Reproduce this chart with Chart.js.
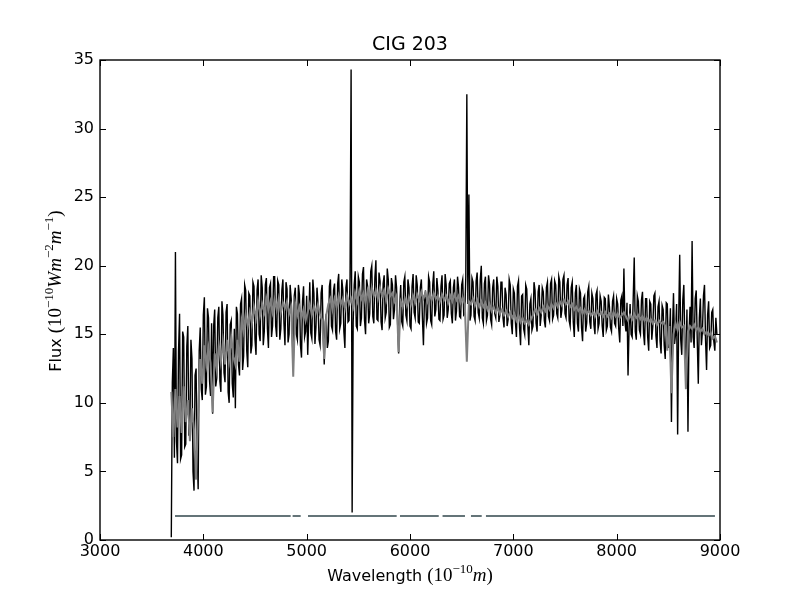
<!DOCTYPE html>
<html>
<head>
<meta charset="utf-8">
<script src="https://cdn.jsdelivr.net/npm/chart.js@4.4.0/dist/chart.umd.min.js"></script>
<style>
html,body{margin:0;padding:0;background:#ffffff;}
#wrap{width:800px;height:600px;}
</style>
</head>
<body>
<div id="wrap"><canvas id="c" width="800" height="600"></canvas></div>
<script>
// ---------------- data ----------------
const titleText = 'CIG 203';
const xTickValues = [3000, 4000, 5000, 6000, 7000, 8000, 9000];
const yTickValues = [0, 5, 10, 15, 20, 25, 30, 35];

// wavelength sampling of the two spectra (Angstrom)
const gridStart = 3690;
const observedStep = 10;
const modelStep = 20;

// observed spectrum (black), 10 A sampling, one row per 200 A
const observedFlux = [
  /*3690*/ 0.2, 11.5, 14.0, 6.0, 21.0, 7.2, 5.6, 13.8, 16.5, 5.9, 6.2, 15.2, 14.8, 6.8, 7.0, 14.1, 15.6, 7.6, 8.2, 14.6,
  /*3890*/ 13.2, 5.0, 3.6, 12.0, 12.5, 6.5, 3.7, 13.8, 15.5, 11.0, 10.2, 16.4, 17.7, 10.6, 11.2, 16.9, 16.2, 11.6, 10.5, 15.8,
  /*4090*/ 9.2, 15.6, 16.8, 11.2, 11.8, 16.2, 17.0, 11.6, 10.8, 17.4, 16.4, 12.2, 11.5, 16.6, 17.2, 10.8, 10.0, 15.7, 16.0, 11.4,
  /*4290*/ 10.4, 15.4, 9.6, 17.0, 16.5, 12.8, 12.0, 17.2, 17.6, 12.4, 13.4, 18.6, 18.2, 13.8, 12.6, 18.0, 17.8, 13.6, 14.2, 18.8,
  /*4490*/ 18.5, 14.6, 13.5, 18.2, 19.0, 15.0, 14.5, 19.3, 18.4, 14.2, 15.2, 18.6, 19.1, 15.4, 14.0, 18.4, 18.7, 14.8, 15.6, 19.2,
  /*4690*/ 19.2, 15.6, 14.8, 18.9, 18.6, 14.6, 15.4, 18.2, 19.0, 15.8, 14.2, 18.8, 18.3, 14.4, 15.0, 18.6, 17.6, 15.2, 12.6, 17.8,
  /*4890*/ 18.4, 15.0, 14.6, 18.6, 17.9, 14.2, 13.3, 17.4, 18.5, 14.8, 15.2, 17.8, 13.5, 16.0, 18.8, 15.1, 14.7, 19.0, 18.0, 14.3,
  /*5090*/ 15.5, 18.4, 17.2, 14.6, 14.2, 18.0, 18.6, 15.0, 12.8, 15.9, 16.5, 14.0, 14.5, 18.5, 19.0, 15.6, 15.3, 18.2, 18.7, 15.2,
  /*5290*/ 14.6, 18.7, 19.4, 15.4, 15.8, 19.0, 18.2, 15.2, 14.0, 18.4, 19.0, 15.9, 16.0, 19.2, 34.3, 2.0, 15.8, 18.6, 19.6, 15.6,
  /*5490*/ 15.4, 19.2, 18.8, 15.6, 16.2, 19.4, 19.9, 16.0, 15.0, 19.0, 18.5, 15.8, 16.5, 19.6, 20.0, 16.3, 15.8, 19.1, 20.4, 16.1,
  /*5690*/ 16.0, 19.5, 18.9, 15.9, 15.3, 18.7, 19.3, 16.2, 16.6, 19.8, 19.0, 15.5, 15.7, 19.1, 18.6, 16.1, 16.8, 19.3, 18.4, 15.8,
  /*5890*/ 13.6, 17.0, 18.6, 15.9, 15.6, 18.8, 19.2, 16.4, 16.0, 19.0, 18.4, 15.6, 15.4, 18.5, 19.4, 16.6, 16.2, 19.3, 18.6, 15.9,
  /*6090*/ 15.8, 18.4, 19.0, 16.2, 14.2, 17.6, 18.2, 15.8, 16.2, 19.2, 18.8, 16.0, 15.7, 18.6, 19.6, 16.3, 16.8, 19.1, 18.2, 16.1,
  /*6290*/ 16.0, 18.5, 19.3, 16.1, 16.4, 19.4, 18.6, 16.2, 16.8, 18.7, 18.9, 16.5, 15.8, 18.4, 19.0, 16.0, 16.7, 19.2, 18.4, 16.3,
  /*6490*/ 16.2, 18.6, 19.0, 16.4, 16.5, 19.2, 32.5, 17.2, 25.2, 16.0, 16.4, 19.1, 18.8, 16.3, 16.0, 18.9, 19.5, 16.6, 16.2, 19.0,
  /*6690*/ 20.0, 16.2, 15.8, 18.7, 19.2, 16.0, 16.4, 19.3, 18.6, 16.1, 15.7, 18.4, 19.0, 16.5, 16.2, 19.2, 18.5, 15.9, 16.4, 18.8,
  /*6890*/ 18.8, 16.2, 15.5, 18.4, 17.9, 15.6, 16.1, 19.0, 18.6, 15.8, 15.0, 18.3, 18.0, 15.9, 14.8, 18.5, 18.9, 15.5, 14.2, 17.8,
  /*7090*/ 17.9, 15.4, 15.0, 18.6, 18.3, 15.7, 14.2, 17.2, 17.6, 15.3, 15.6, 18.8, 18.2, 15.8, 15.2, 18.1, 18.6, 15.6, 16.4, 18.4,
  /*7290*/ 18.1, 16.0, 15.5, 18.4, 18.8, 16.3, 16.0, 18.7, 19.0, 16.1, 16.4, 18.9, 18.6, 16.5, 16.2, 19.2, 18.8, 16.2, 16.8, 19.0,
  /*7490*/ 19.3, 16.5, 16.2, 18.6, 19.1, 16.0, 15.6, 18.4, 18.8, 15.9, 14.8, 18.0, 18.6, 15.8, 15.2, 18.3, 18.0, 15.5, 14.5, 17.6,
  /*7690*/ 17.8, 15.2, 15.8, 18.1, 18.5, 15.9, 15.4, 18.0, 17.6, 15.7, 15.0, 17.9, 18.2, 15.4, 15.8, 17.8, 17.4, 15.6, 14.8, 17.7,
  /*7890*/ 17.6, 15.3, 15.6, 17.9, 17.0, 15.5, 15.2, 17.4, 17.8, 15.8, 15.6, 17.6, 17.2, 15.4, 14.4, 17.5, 17.8, 15.6, 19.8, 15.9,
  /*8090*/ 15.2, 17.3, 12.0, 15.4, 17.2, 15.0, 14.8, 17.6, 20.6, 15.2, 14.6, 17.8, 17.4, 15.3, 15.0, 17.5, 18.1, 15.1, 14.2, 17.6,
  /*8290*/ 17.6, 14.8, 13.8, 17.4, 17.2, 14.6, 15.6, 17.8, 18.0, 14.9, 14.0, 17.0, 17.4, 14.5, 13.6, 17.1, 16.8, 14.2, 13.2, 17.3,
  /*8490*/ 17.2, 14.0, 14.5, 16.9, 8.6, 15.2, 18.0, 14.3, 15.0, 17.2, 7.7, 16.0, 20.8, 14.6, 13.5, 17.5, 18.6, 14.2, 12.5, 16.8,
  /*8690*/ 7.9, 15.0, 17.0, 14.4, 21.8, 14.8, 14.0, 17.6, 18.2, 14.5, 11.4, 16.2, 17.6, 14.2, 15.2, 17.8, 18.6, 14.6, 12.4, 16.4,
  /*8890*/ 17.4, 14.0, 14.2, 16.6, 16.8, 14.5, 13.8, 16.2, 15.0
];

// fitted model spectrum (grey), 20 A sampling, one row per 200 A
const modelFlux = [
  /*3690*/ 10.8, 7.5, 11.0, 8.2, 10.5, 7.8, 11.2, 8.6, 10.2, 7.2,
  /*3890*/ 9.6, 8.0, 4.4, 9.5, 13.2, 11.4, 14.2, 12.8, 14.0, 12.9,
  /*4090*/ 9.3, 13.6, 12.4, 14.2, 13.0, 14.4, 12.8, 14.6, 13.2, 14.8,
  /*4290*/ 13.4, 12.8, 14.6, 13.0, 16.0, 15.2, 16.4, 15.6, 16.6, 15.8,
  /*4490*/ 17.0, 16.2, 17.4, 16.4, 17.2, 16.6, 17.6, 16.8, 17.4, 16.6,
  /*4690*/ 17.5, 16.8, 17.6, 16.6, 17.3, 16.9, 17.4, 16.5, 17.0, 11.9,
  /*4890*/ 17.2, 16.4, 17.0, 16.2, 16.8, 16.0, 16.6, 17.2, 16.4, 17.0,
  /*5090*/ 16.6, 17.2, 16.4, 16.0, 13.2, 16.4, 17.2, 17.6, 16.8, 17.6,
  /*5290*/ 17.0, 17.8, 17.2, 17.6, 16.9, 17.8, 17.2, 17.6, 17.0, 18.0,
  /*5490*/ 17.4, 18.2, 17.6, 18.0, 17.3, 18.2, 17.6, 18.4, 17.8, 18.2,
  /*5690*/ 17.6, 18.4, 17.8, 18.2, 17.5, 18.3, 17.8, 18.0, 17.4, 17.8,
  /*5890*/ 13.7, 17.4, 17.0, 17.6, 17.1, 17.7, 17.2, 17.8, 17.3, 17.9,
  /*6090*/ 17.5, 18.1, 17.6, 18.0, 17.4, 17.9, 17.5, 18.0, 17.6, 17.8,
  /*6290*/ 17.4, 17.9, 17.5, 17.8, 17.3, 17.8, 17.4, 17.9, 17.5, 17.8,
  /*6490*/ 17.3, 17.7, 17.2, 13.0, 17.4, 17.2, 17.6, 17.1, 17.5, 17.0,
  /*6690*/ 17.4, 17.0, 17.3, 16.8, 17.2, 16.7, 17.0, 16.6, 16.9, 16.5,
  /*6890*/ 16.8, 16.4, 16.7, 16.3, 16.6, 16.2, 16.5, 16.0, 16.4, 15.9,
  /*7090*/ 16.2, 15.8, 16.0, 15.7, 16.1, 16.4, 16.8, 16.5, 16.9, 16.6,
  /*7290*/ 17.0, 16.7, 17.1, 16.8, 17.2, 16.9, 17.3, 17.0, 17.4, 17.1,
  /*7490*/ 17.5, 17.2, 17.4, 17.0, 17.2, 16.8, 17.0, 16.7, 16.9, 16.5,
  /*7690*/ 16.8, 16.5, 16.7, 16.4, 16.6, 16.3, 16.7, 16.4, 16.6, 16.3,
  /*7890*/ 16.6, 16.3, 16.5, 16.2, 16.6, 16.3, 16.5, 16.2, 16.4, 16.6,
  /*8090*/ 16.3, 16.0, 16.4, 16.1, 16.5, 16.2, 16.4, 16.1, 16.3, 16.0,
  /*8290*/ 16.2, 15.9, 16.1, 15.8, 16.0, 15.7, 16.0, 15.8, 15.9, 15.6,
  /*8490*/ 13.8, 15.6, 10.7, 15.0, 15.8, 15.3, 15.9, 15.5, 15.6, 11.0,
  /*8690*/ 15.2, 15.6, 15.4, 15.7, 15.3, 15.5, 15.2, 15.4, 15.0, 15.2,
  /*8890*/ 14.9, 15.1, 14.7, 14.9, 14.4
];

// masked-region indicator line (segments of good wavelengths)
const maskLevel = 1.75;
const maskStart = [3726, 4864, 5013, 5903, 6315, 6590, 6735];
const maskEnd   = [4845, 4942, 5871, 6278, 6532, 6694, 8951];

// ---------------- build datasets ----------------
const obsPoints = observedFlux.map((v, i) => ({x: gridStart + i * observedStep, y: v}));
const modelPoints = modelFlux.map((v, i) => ({x: gridStart + i * modelStep, y: v}));
const maskPoints = [];
maskStart.forEach((s, i) => {
  maskPoints.push({x: s, y: maskLevel});
  maskPoints.push({x: maskEnd[i], y: maskLevel});
  if (i < maskStart.length - 1) maskPoints.push({x: (maskEnd[i] + maskStart[i + 1]) / 2, y: null});
});

// draw runs of text (mathtext-like) along a baseline
function drawRuns(ctx, runs, x, y) {
  let cx = x;
  runs.forEach(r => {
    ctx.font = r.font;
    ctx.fillText(r.t, cx, y + (r.dy || 0));
    cx += ctx.measureText(r.t).width;
  });
}
function runsWidth(ctx, runs) {
  let w = 0;
  runs.forEach(r => { ctx.font = r.font; w += ctx.measureText(r.t).width; });
  return w;
}

const SANS = '16px "DejaVu Sans"';
const SERIF = '19px "Liberation Serif"';
const SERIF_I = 'italic 19px "Liberation Serif"';
const SUP = '13px "Liberation Serif"';

const xLabelRuns = [
  {t: 'Wavelength ', font: SANS},
  {t: '(10', font: SERIF},
  {t: '\u221210', font: SUP, dy: -8},
  {t: 'm', font: SERIF_I},
  {t: ')', font: SERIF}
];
const yLabelRuns = [
  {t: 'Flux ', font: SANS},
  {t: '(10', font: SERIF},
  {t: '\u221210', font: SUP, dy: -8},
  {t: 'Wm', font: SERIF_I},
  {t: '\u22122', font: SUP, dy: -8},
  {t: 'm', font: SERIF_I},
  {t: '\u22121', font: SUP, dy: -8},
  {t: ')', font: SERIF}
];

const framePlugin = {
  id: 'frame',
  afterDraw(chart) {
    const ctx = chart.ctx;
    const a = chart.chartArea;
    const xs = chart.scales.x, ys = chart.scales.y;
    ctx.save();
    ctx.strokeStyle = '#000';
    ctx.lineWidth = 1;
    const tl = 6;
    ctx.beginPath();
    xTickValues.forEach(v => {
      const px = Math.round(xs.getPixelForValue(v)) + 0.5;
      ctx.moveTo(px, a.bottom); ctx.lineTo(px, a.bottom - tl);
      ctx.moveTo(px, a.top); ctx.lineTo(px, a.top + tl);
    });
    yTickValues.forEach(v => {
      const py = Math.round(ys.getPixelForValue(v)) + 0.5;
      ctx.moveTo(a.left, py); ctx.lineTo(a.left + tl, py);
      ctx.moveTo(a.right, py); ctx.lineTo(a.right - tl, py);
    });
    ctx.stroke();
    ctx.lineWidth = 1.4;
    ctx.strokeRect(a.left, a.top, a.right - a.left, a.bottom - a.top);
    // axis labels
    ctx.fillStyle = '#000';
    ctx.textBaseline = 'alphabetic';
    ctx.textAlign = 'left';
    const wx = runsWidth(ctx, xLabelRuns);
    drawRuns(ctx, xLabelRuns, (a.left + a.right) / 2 - wx / 2, 581);
    const wy = runsWidth(ctx, yLabelRuns);
    ctx.translate(61, (a.top + a.bottom) / 2 - 9);
    ctx.rotate(-Math.PI / 2);
    drawRuns(ctx, yLabelRuns, -wy / 2, 0);
    ctx.restore();
  }
};

new Chart(document.getElementById('c'), {
  type: 'line',
  data: {
    datasets: [
      {label: 'model', data: modelPoints, borderColor: '#808080', borderWidth: 2, pointRadius: 0, tension: 0, order: 0},
      {label: 'mask', data: maskPoints, borderColor: '#647478', borderWidth: 2, pointRadius: 0, tension: 0, spanGaps: false, order: 1},
      {label: 'observed', data: obsPoints, borderColor: '#000000', borderWidth: 1.4, pointRadius: 0, tension: 0, order: 2}
    ]
  },
  options: {
    responsive: false,
    animation: false,
    devicePixelRatio: 1,
    layout: {padding: {left: 0, right: 80, top: 0, bottom: 0}},
    plugins: {
      legend: {display: false},
      tooltip: {enabled: false},
      title: {
        display: true,
        text: titleText,
        fullSize: false,
        color: '#000',
        font: {family: 'DejaVu Sans', size: 19, weight: 'normal', lineHeight: 1.2},
        padding: {top: 33.2, bottom: 4}
      }
    },
    scales: {
      x: {
        type: 'linear',
        min: 3000, max: 9000,
        afterBuildTicks: s => { s.ticks = xTickValues.map(v => ({value: v})); },
        afterFit: s => { s.height = 60; },
        grid: {display: false, drawTicks: false},
        border: {display: false},
        ticks: {color: '#000', padding: 2, maxRotation: 0, autoSkip: false,
                font: {family: 'DejaVu Sans', size: 16}, callback: v => String(v)}
      },
      y: {
        type: 'linear',
        min: 0, max: 35,
        afterBuildTicks: s => { s.ticks = yTickValues.map(v => ({value: v})); },
        afterFit: s => { s.width = 100; },
        grid: {display: false, drawTicks: false},
        border: {display: false},
        ticks: {color: '#000', padding: 6, autoSkip: false,
                font: {family: 'DejaVu Sans', size: 16}, callback: v => String(v)}
      }
    }
  },
  plugins: [framePlugin]
});
</script>
</body>
</html>
